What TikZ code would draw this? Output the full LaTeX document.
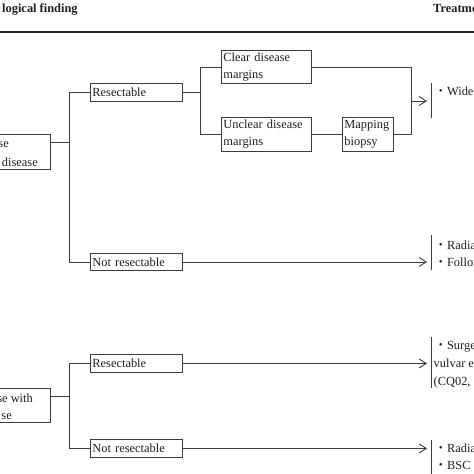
\documentclass[tikz,border=0pt]{standalone}
\usepackage{fontspec}
\setmainfont{Liberation Serif}
\newfontfamily\cjk{Noto Sans CJK JP}
\usetikzlibrary{arrows.meta}
\definecolor{lc}{HTML}{3C3C3C}
\definecolor{tc}{HTML}{1E1E1E}
\begin{document}
\begin{tikzpicture}[x=1pt,y=-1pt,
  font=\fontsize{12.4}{17}\selectfont,
  box/.style={draw=lc, line width=0.9pt, inner xsep=2pt, inner ysep=0pt, align=left, anchor=north west, text=tc},
  lbox/.style={draw=lc, line width=0.9pt, inner sep=0pt, minimum width=120pt, anchor=north east},
  ln/.style={draw=lc, line width=0.9pt, line join=miter},
  arr/.style={ln, -{Straight Barb[length=7pt,width=9pt]}, shorten >=4pt},
  bar/.style={draw=lc, line width=1pt},
  tx/.style={anchor=base west, inner sep=0pt, text=tc},
  txr/.style={anchor=base east, inner sep=0pt, text=tc},
  hd/.style={anchor=base west, inner sep=0pt, font=\fontsize{12.4}{15}\selectfont\bfseries, text=tc}]
\useasboundingbox (0,0) rectangle (474,474);
\clip (0,0) rectangle (474,474);
% header
\node[hd] (h1) at (2,12) {logical finding};
\node[hd] (h2) at (433,12) {Treatment};
\coordinate (rl) at (0,32);
\coordinate (rr) at (474,32);
\draw[line width=1.6pt, draw=black!85] (rl) -- (rr);
% ---------- group 1
\node[lbox, minimum height=35pt] (L1) at (51,134) {};
\node[txr] (L1a) at (9,147) {se};
\node[txr] (L1b) at (38,166) {disease};
\node[box, text width=88pt, minimum height=18pt] (R1) at (90,83) {Resectable};
\node[box, text width=88pt, minimum height=17pt] (N1) at (90,253) {Not resectable};
\node[box, text width=86pt, minimum height=33pt] (C1) at (221,50) {Clear disease\\margins};
\node[box, text width=86pt, minimum height=34pt] (U1) at (221,117) {Unclear disease\\margins};
\node[box, text width=47pt, minimum height=34pt] (M1) at (342,117) {Mapping\\biopsy};
\coordinate (j1) at (69,142);
\draw[ln] (j1 -| L1.east) -- (j1);
\draw[ln] (R1.west) -| (j1);
\draw[ln] (N1.west) -| (j1);
\path (R1.east) ++(18,0) coordinate (s1);
\draw[ln] (R1.east) -- (s1);
\draw[ln] (C1.west) -| (s1);
\draw[ln] (U1.west) -| (s1);
\draw[ln] (U1.east) -- (M1.west);
\coordinate (m1) at (411,101);
\draw[ln] (C1.east) -| (m1);
\draw[ln] (M1.east) -| (m1);
\coordinate (b1t) at (431,83);
\coordinate (b1b) at (431,118);
\draw[bar] (b1t) -- (b1b);
\draw[arr] (m1) -- (m1 -| b1t);
\node[tx] (T1a) at (434.5,95) {{\cjk ・}Wide};
\coordinate (b2t) at (431,235);
\coordinate (b2b) at (431,270);
\draw[bar] (b2t) -- (b2b);
\draw[arr] (N1.east) -- (N1.east -| b2t);
\node[tx] (T2a) at (434.5,249) {{\cjk ・}Radiation};
\node[tx] (T2b) at (434.5,266) {{\cjk ・}Follow};
% ---------- group 2
\node[lbox, minimum height=34pt] (L2) at (51,388) {};
\node[txr] (L2a) at (33,402) {se with};
\node[txr] (L2b) at (12,419) {se};
\node[box, text width=88pt, minimum height=18pt] (R2) at (90,354) {Resectable};
\node[box, text width=88pt, minimum height=18pt] (N2) at (90,439) {Not resectable};
\coordinate (j2) at (69,396);
\draw[ln] (j2 -| L2.east) -- (j2);
\draw[ln] (R2.west) -| (j2);
\draw[ln] (N2.west) -| (j2);
\coordinate (b3t) at (431,337);
\coordinate (b3b) at (431,388);
\draw[bar] (b3t) -- (b3b);
\draw[arr] (R2.east) -- (R2.east -| b3t);
\node[tx] (T3a) at (434.5,349) {{\cjk ・}Surgery};
\node[tx] (T3b) at (433.5,367) {vulvar excision};
\node[tx] (T3c) at (433.5,385) {(CQ02,};
\coordinate (b4t) at (431,440);
\coordinate (b4b) at (431,480);
\draw[bar] (b4t) -- (b4b);
\draw[arr] (N2.east) -- (N2.east -| b4t);
\node[tx] (T4a) at (434.5,452) {{\cjk ・}Radiation};
\node[tx] (T4b) at (434.5,469) {{\cjk ・}BSC};
\end{tikzpicture}
\end{document}
